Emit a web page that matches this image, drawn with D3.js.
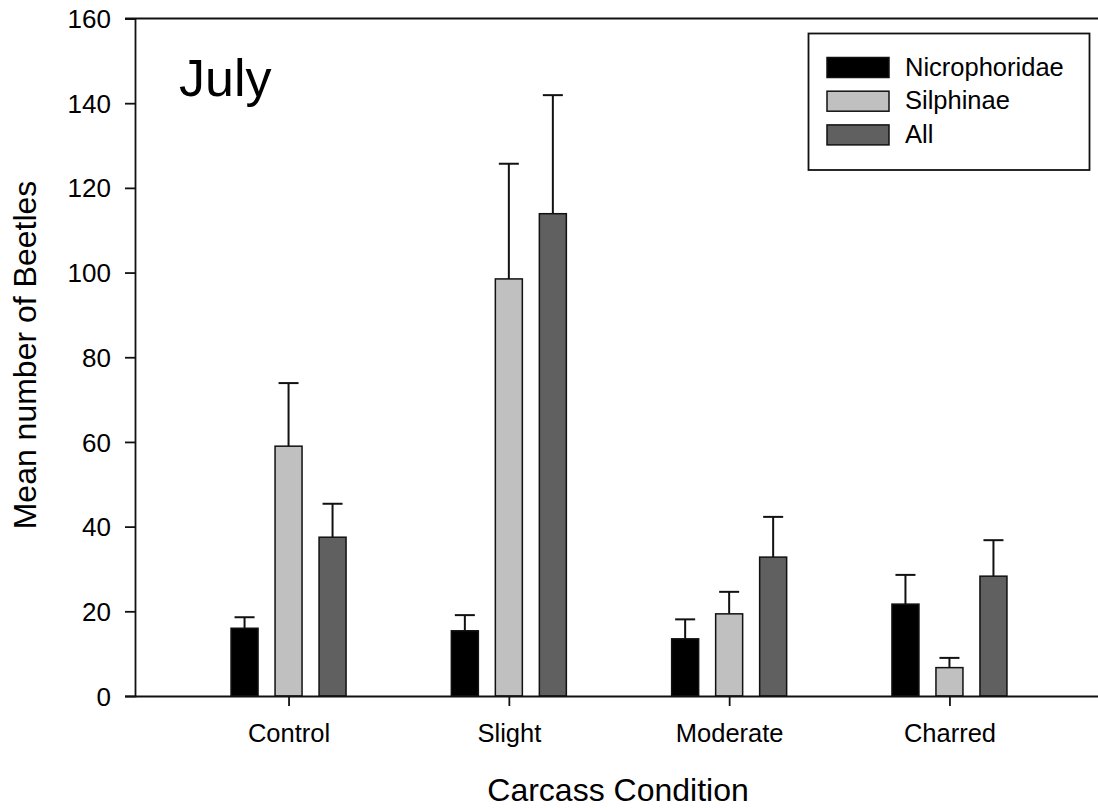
<!DOCTYPE html>
<html lang="en">
<head>
  <meta charset="UTF-8" />
  <title>July - Mean number of Beetles</title>
  <script src="https://cdn.jsdelivr.net/npm/d3@7"></script>
  <style>
    body { margin: 0; background: #fff; }
    svg text { font-family: Arial, "Liberation Sans", sans-serif; fill: #000; }
  </style>
</head>
<body>
  <svg id="chart" width="1098" height="808"></svg>
  <script>
    // Data
    var categories = ["Control", "Slight", "Moderate", "Charred"];
    var seriesNames = ["Nicrophoridae", "Silphinae", "All"];
    var seriesColors = ["#000000", "#c0c0c0", "#606060"];
    var nicroMean = [16.0, 15.4, 13.5, 21.7];
    var nicroErr  = [18.6, 19.1, 18.1, 28.6];
    var silphMean = [59.0, 98.5, 19.4, 6.7];
    var silphErr  = [73.9, 125.7, 24.6, 9.0];
    var allMean   = [37.5, 113.9, 32.8, 28.3];
    var allErr    = [45.4, 141.9, 42.3, 36.8];
    var yTicks = [0, 20, 40, 60, 80, 100, 120, 140, 160];

    var means = [nicroMean, silphMean, allMean];
    var errs = [nicroErr, silphErr, allErr];

    var svg = d3.select("#chart");
    // plot edges (right edge runs just past the picture)
    var plotL = 135, plotR = 1103, plotT = 18.5, plotB = 696;

    var x = d3.scalePoint().domain(categories).range([plotL, plotR]).padding(0.697);
    var y = d3.scaleLinear().domain([0, 160]).range([plotB, plotT]);
    var offset = d3.scalePoint().domain(seriesNames).range([-44, 44]);
    var barW = 27;

    // bars
    seriesNames.forEach(function(name, si) {
      var g = svg.append("g");
      var rows = categories.map(function(c, i) { return { c: c, v: means[si][i], e: errs[si][i] }; });
      var cx = function(d) { return x(d.c) + offset(name); };

      // error bars (upper only)
      g.selectAll("line.err").data(rows).enter().append("line")
        .attr("x1", cx).attr("x2", cx)
        .attr("y1", function(d) { return y(d.v); })
        .attr("y2", function(d) { return y(d.e); })
        .attr("stroke", "#111").attr("stroke-width", 2);
      g.selectAll("line.cap").data(rows).enter().append("line")
        .attr("x1", function(d) { return cx(d) - 10; })
        .attr("x2", function(d) { return cx(d) + 10; })
        .attr("y1", function(d) { return y(d.e); })
        .attr("y2", function(d) { return y(d.e); })
        .attr("stroke", "#111").attr("stroke-width", 2);

      g.selectAll("rect").data(rows).enter().append("rect")
        .attr("x", function(d) { return cx(d) - barW / 2; })
        .attr("y", function(d) { return y(d.v); })
        .attr("width", barW)
        .attr("height", function(d) { return y(0) - y(d.v); })
        .attr("fill", seriesColors[si])
        .attr("stroke", "#111").attr("stroke-width", 1.5);
    });

    // y axis
    var yAxis = svg.append("g").attr("transform", "translate(" + plotL + ",0)")
      .call(d3.axisLeft(y).tickValues(yTicks).tickSize(10).tickPadding(14));
    yAxis.select(".domain").attr("stroke", "#111").attr("stroke-width", 1.8);
    yAxis.selectAll(".tick line").attr("stroke", "#111").attr("stroke-width", 1.8);
    yAxis.selectAll("text").attr("font-size", 26).attr("dy", "0.35em")
      .style("font-family", "Arial, 'Liberation Sans', sans-serif");

    // x axis
    var xAxis = svg.append("g").attr("transform", "translate(0," + plotB + ")")
      .call(d3.axisBottom(x).tickSize(10).tickSizeOuter(0).tickPadding(18));
    xAxis.select(".domain").attr("stroke", "#111").attr("stroke-width", 1.8);
    xAxis.selectAll(".tick line").attr("stroke", "#111").attr("stroke-width", 1.8);
    xAxis.selectAll("text").attr("font-size", 25.5)
      .style("font-family", "Arial, 'Liberation Sans', sans-serif");

    // top frame line
    svg.append("line").attr("x1", plotL - 10).attr("x2", 1098).attr("y1", plotT).attr("y2", plotT)
      .attr("stroke", "#111").attr("stroke-width", 1.8);

    // panel label
    svg.append("text").attr("x", 179).attr("y", 96).attr("font-size", 52).text("July");

    // axis titles
    svg.append("text").attr("transform", "translate(36,355) rotate(-90)")
      .attr("text-anchor", "middle").attr("font-size", 32).text("Mean number of Beetles");
    svg.append("text").attr("x", 618).attr("y", 801)
      .attr("text-anchor", "middle").attr("font-size", 32).text("Carcass Condition");

    // legend
    var lg = svg.append("g");
    lg.append("rect").attr("x", 808.5).attr("y", 33.5).attr("width", 281).attr("height", 136.5)
      .attr("fill", "#fff").attr("stroke", "#111").attr("stroke-width", 1.8);
    seriesNames.forEach(function(name, si) {
      var yy = 57.5 + si * 33.7;
      lg.append("rect").attr("x", 827).attr("y", yy).attr("width", 62).attr("height", 20)
        .attr("fill", seriesColors[si]).attr("stroke", "#111").attr("stroke-width", 1.5);
      lg.append("text").attr("x", 905).attr("y", yy + 18).attr("font-size", 25.5).text(name);
    });
  </script>
</body>
</html>
